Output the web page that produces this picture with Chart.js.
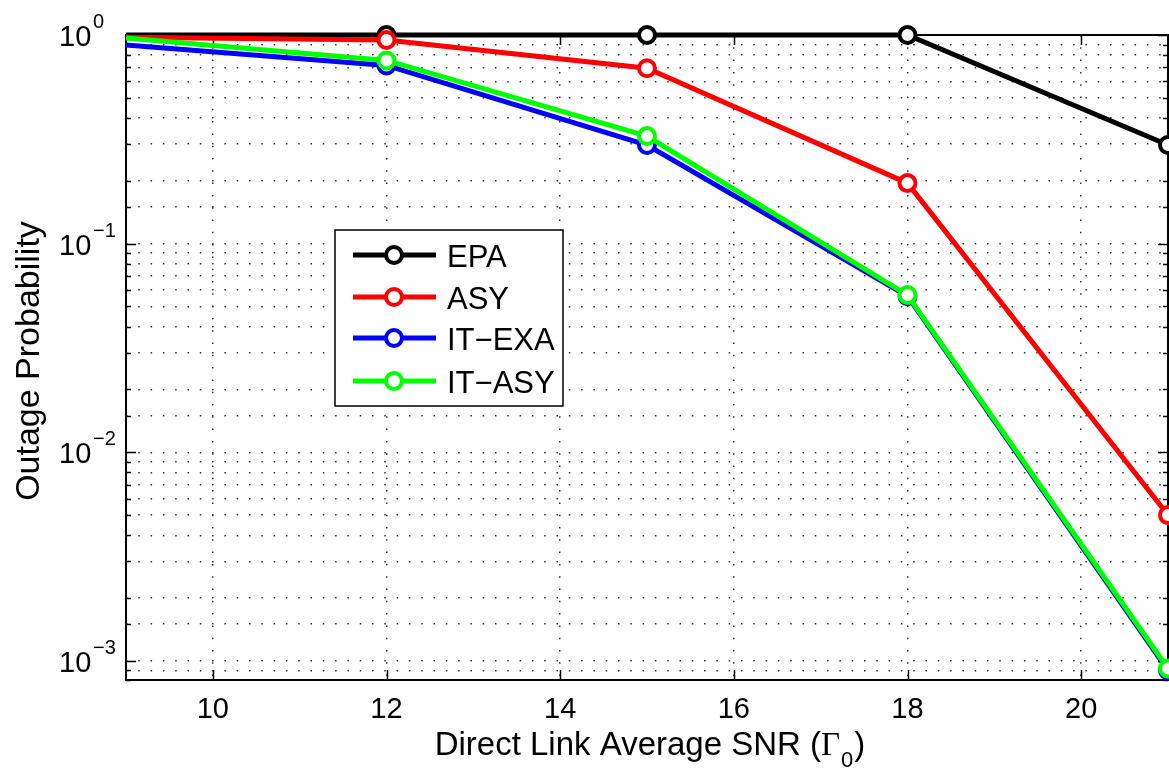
<!DOCTYPE html>
<html>
<head>
<meta charset="utf-8">
<script src="https://cdn.jsdelivr.net/npm/chart.js@4.4.1/dist/chart.umd.min.js"></script>
<style>
  html, body { margin: 0; padding: 0; background: #fff; }
  #c { display: block; }
</style>
</head>
<body>
<canvas id="c" width="1169" height="769"></canvas>
<script>
// données
const snr = [9, 12, 15, 18, 21];
const epa = [1, 1, 1, 1, 0.297];
const asy = [0.975, 0.946, 0.693, 0.195, 0.005];
const itExa = [0.895, 0.715, 0.297, 0.056, 0.0009];
const itAsy = [0.967, 0.755, 0.328, 0.0567, 0.00092];

const xTicks = [10, 12, 14, 16, 18, 20];
const yDecades = [0, -1, -2, -3];
const yMin = 8.1e-4;
const yMax = 1;

const FONT = '"Liberation Sans", Arial, Helvetica, sans-serif';

function pairs(ys) {
    return snr.map((x, i) => ({ x: x, y: ys[i] }));
}

function serie(label, color, ys, order) {
    return {
        label: label,
        data: pairs(ys),
        borderColor: color,
        backgroundColor: color,
        borderWidth: 5,
        pointRadius: [0, 8, 8, 8, 8],
        pointBorderWidth: 4,
        pointBackgroundColor: "#fff",
        pointBorderColor: color,
        tension: 0,
        clip: false,
        order: order,
    };
}

// cadre, graduations internes, étiquettes et légende façon MATLAB
const matlabAxes = {
    id: "matlabAxes",
    beforeDatasetsDraw(chart) {
        const { ctx, chartArea: a, scales: { x, y } } = chart;
        ctx.save();
        ctx.strokeStyle = "#000";
        ctx.lineWidth = 1.5;
        ctx.beginPath();
        xTicks.forEach(v => {
            const px = Math.round(x.getPixelForValue(v)) + 0.5;
            ctx.moveTo(px, a.bottom); ctx.lineTo(px, a.bottom - 10);
            ctx.moveTo(px, a.top); ctx.lineTo(px, a.top + 10);
        });
        y.ticks.forEach(t => {
            const py = Math.round(y.getPixelForValue(t.value)) + 0.5;
            const major = Math.abs(Math.log10(t.value) - Math.round(Math.log10(t.value))) < 1e-6;
            const len = major ? 10 : 5;
            ctx.moveTo(a.left, py); ctx.lineTo(a.left + len, py);
            ctx.moveTo(a.right, py); ctx.lineTo(a.right - len, py);
        });
        ctx.stroke();
        ctx.lineWidth = 2;
        ctx.strokeRect(a.left, a.top, a.right - a.left, a.bottom - a.top);
        ctx.restore();
    },
    afterDraw(chart) {
        const { ctx, chartArea: a, scales: { x, y } } = chart;
        ctx.save();
        ctx.fillStyle = "#000";

        // x tick labels
        ctx.font = "29px " + FONT;
        ctx.textAlign = "center";
        ctx.textBaseline = "alphabetic";
        xTicks.forEach(v => ctx.fillText(String(v), x.getPixelForValue(v), 718));

        // y tick labels 10^n
        ctx.textAlign = "left";
        yDecades.forEach(d => {
            const py = y.getPixelForValue(Math.pow(10, d));
            ctx.font = "29px " + FONT;
            ctx.fillText("10", 59, py + 11);
            ctx.font = "20px " + FONT;
            ctx.fillText(d === 0 ? "0" : "\u2212" + (-d), 93, py - 7);
        });

        // x title with Γ0
        const main = "Direct Link Average SNR (";
        ctx.font = "33px " + FONT;
        const w1 = ctx.measureText(main).width;
        const wClose = ctx.measureText(")").width;
        ctx.font = "33px \"Liberation Serif\", serif";
        const wG = ctx.measureText("\u0393").width;
        ctx.font = "22px " + FONT;
        const wSub = ctx.measureText("0").width;
        const total = w1 + wG + wSub + wClose + 2;
        let cx = 650 - total / 2;
        const base = 755;
        ctx.font = "33px " + FONT;
        ctx.fillText(main, cx, base); cx += w1;
        ctx.font = "33px \"Liberation Serif\", serif";
        ctx.fillText("\u0393", cx, base); cx += wG + 1;
        ctx.font = "22px " + FONT;
        ctx.fillText("0", cx, base + 12); cx += wSub + 1;
        ctx.font = "33px " + FONT;
        ctx.fillText(")", cx, base);

        // y title
        ctx.save();
        ctx.translate(39, 361);
        ctx.rotate(-Math.PI / 2);
        ctx.textAlign = "center";
        ctx.font = "34px " + FONT;
        ctx.fillText("Outage Probability", 0, 0);
        ctx.restore();

        // legend
        const box = { left: 335, top: 230, right: 563, bottom: 406 };
        const rows = [255, 297, 338, 381];
        ctx.fillStyle = "#fff";
        ctx.fillRect(box.left, box.top, box.right - box.left, box.bottom - box.top);
        ctx.strokeStyle = "#000";
        ctx.lineWidth = 1.5;
        ctx.strokeRect(box.left, box.top, box.right - box.left, box.bottom - box.top);
        chart.data.datasets.forEach((ds, i) => {
            const ry = rows[i];
            ctx.strokeStyle = ds.borderColor;
            ctx.lineWidth = 5;
            ctx.beginPath();
            ctx.moveTo(353, ry); ctx.lineTo(436, ry);
            ctx.stroke();
            ctx.beginPath();
            ctx.arc(394, ry, 8, 0, Math.PI * 2);
            ctx.fillStyle = "#fff";
            ctx.fill();
            ctx.lineWidth = 4;
            ctx.stroke();
            ctx.fillStyle = "#000";
            ctx.font = "31px " + FONT;
            ctx.textAlign = "left";
            ctx.fillText(ds.label, 447, ry + 12);
        });
        ctx.restore();
    },
};

new Chart(document.getElementById("c"), {
    type: "line",
    data: {
        datasets: [
            serie("EPA", "#000000", epa, 4),
            serie("ASY", "#ff0000", asy, 3),
            serie("IT\u2212EXA", "#0000ff", itExa, 2),
            serie("IT\u2212ASY", "#00ff00", itAsy, 1),
        ],
    },
    options: {
        responsive: false,
        animation: false,
        devicePixelRatio: 1,
        layout: { autoPadding: false, padding: { left: 126, top: 35, right: 1, bottom: 89 } },
        plugins: { legend: { display: false }, tooltip: { enabled: false } },
        scales: {
            x: {
                type: "linear",
                min: 9,
                max: 21,
                afterBuildTicks: s => { s.ticks = xTicks.map(v => ({ value: v })); },
                ticks: { display: false, autoSkip: false },
                grid: { drawTicks: false, color: "#333", lineWidth: 1.5 },
                border: { display: false, dash: [1.5, 10.8] },
            },
            y: {
                type: "logarithmic",
                min: yMin,
                max: yMax,
                ticks: { display: false, autoSkip: false },
                grid: { drawTicks: false, color: "#333", lineWidth: 1.5 },
                border: { display: false, dash: [1.5, 10.8] },
            },
        },
    },
    plugins: [matlabAxes],
});
</script>
</body>
</html>
